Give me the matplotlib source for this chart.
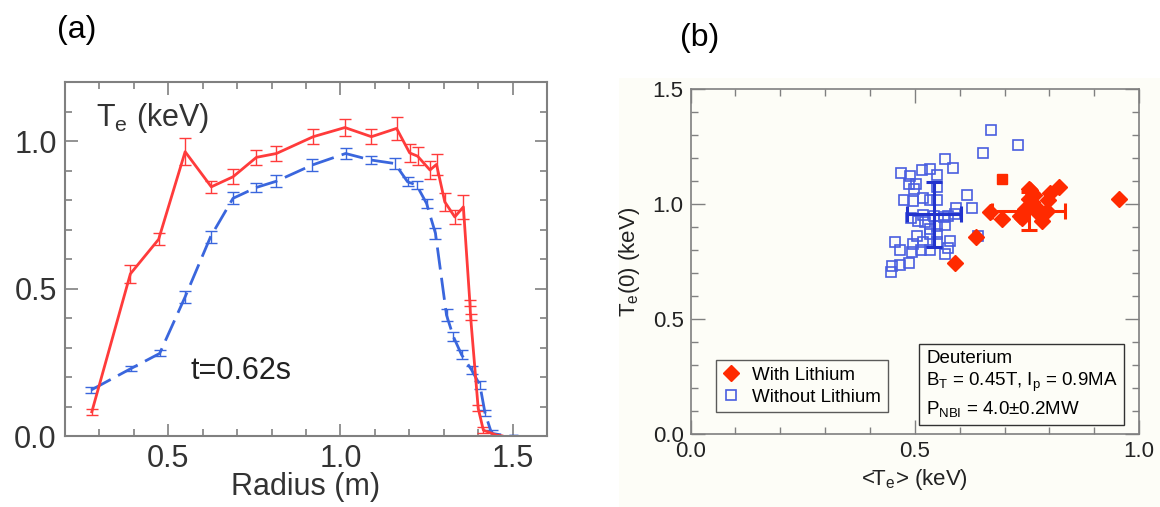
import matplotlib
matplotlib.use("Agg")
import matplotlib.pyplot as plt
from matplotlib.patches import Rectangle
from matplotlib.ticker import MultipleLocator

plt.rcParams['font.family'] = ['Liberation Sans', 'DejaVu Sans']
plt.rcParams['mathtext.default'] = 'regular'

# (a) Te profiles at t=0.62s
red_r = [0.278, 0.39, 0.472, 0.549, 0.625, 0.688, 0.756, 0.814, 0.921, 1.013, 1.090, 1.163,
         1.201, 1.224, 1.260, 1.279, 1.303, 1.332, 1.357, 1.376, 1.378, 1.400, 1.415, 1.453, 1.47]
red_te = [0.082, 0.55, 0.667, 0.964, 0.845, 0.879, 0.945, 0.958, 1.015, 1.046, 1.015, 1.043,
          0.960, 0.949, 0.902, 0.921, 0.794, 0.743, 0.777, 0.450, 0.404, 0.094, 0.020, 0.003, 0.0]
red_err = [0.01, 0.03, 0.02, 0.045, 0.02, 0.025, 0.025, 0.025, 0.025, 0.03, 0.025, 0.04,
           0.03, 0.03, 0.03, 0.035, 0.03, 0.025, 0.04, 0.01, 0.01, 0.01, 0.01, 0.0, 0.0]

blue_r = [0.276, 0.392, 0.475, 0.549, 0.623, 0.688, 0.756, 0.814, 0.918, 1.015, 1.088, 1.158,
          1.195, 1.221, 1.250, 1.276, 1.308, 1.328, 1.352, 1.381, 1.405, 1.420, 1.439, 1.488, 1.517]
blue_te = [0.156, 0.229, 0.280, 0.472, 0.676, 0.806, 0.843, 0.864, 0.919, 0.958, 0.936, 0.924,
           0.862, 0.851, 0.789, 0.687, 0.410, 0.337, 0.275, 0.224, 0.173, 0.077, 0.009, 0.0, 0.0]
blue_err = [0.01, 0.01, 0.01, 0.02, 0.02, 0.02, 0.015, 0.02, 0.02, 0.02, 0.015, 0.02,
            0.015, 0.015, 0.015, 0.02, 0.02, 0.015, 0.015, 0.015, 0.015, 0.01, 0.01, 0.0, 0.0]

# (b) central Te vs volume averaged Te
with_li_x = [0.590, 0.637, 0.668, 0.694, 0.735, 0.739, 0.746, 0.754, 0.754, 0.757, 0.761, 0.765,
             0.769, 0.772, 0.783, 0.795, 0.798, 0.802, 0.821, 0.955]
with_li_y = [0.745, 0.855, 0.966, 0.936, 0.948, 0.939, 0.979, 1.023, 1.066, 1.060, 1.009, 1.038,
             0.994, 0.965, 0.927, 0.970, 1.020, 1.050, 1.073, 1.023]
extra_sq_x = [0.694]
extra_sq_y = [1.108]

without_li_x = [0.670, 0.731, 0.651, 0.568, 0.585, 0.469, 0.490, 0.517, 0.534, 0.549, 0.486, 0.503,
                0.499, 0.549, 0.617, 0.475, 0.495, 0.519, 0.534, 0.550, 0.627, 0.592, 0.590, 0.492,
                0.519, 0.508, 0.523, 0.542, 0.564, 0.575, 0.568, 0.549, 0.534, 0.533, 0.504, 0.549,
                0.579, 0.456, 0.497, 0.519, 0.549, 0.467, 0.493, 0.513, 0.533, 0.575, 0.568, 0.642,
                0.487, 0.467, 0.450, 0.447]
without_li_y = [1.322, 1.256, 1.224, 1.195, 1.159, 1.135, 1.121, 1.150, 1.154, 1.125, 1.089, 1.089,
                1.067, 1.074, 1.038, 1.019, 1.013, 1.026, 1.019, 1.019, 0.982, 0.982, 0.958, 0.939,
                0.953, 0.928, 0.921, 0.950, 0.943, 0.947, 0.909, 0.906, 0.892, 0.870, 0.863, 0.870,
                0.841, 0.837, 0.826, 0.834, 0.834, 0.800, 0.790, 0.800, 0.800, 0.808, 0.783, 0.863,
                0.743, 0.736, 0.729, 0.705]

# mean +- spread
with_mean = (0.754, 0.970, 0.081, 0.082)
without_mean = (0.542, 0.955, 0.060, 0.140)

RED_A = '#ff3b3b'
BLUE_A = '#3a66dd'
RED_B = '#ff2a00'
BLUE_B = '#4a5ee0'
BLUE_BAR = '#2233cc'
GRID = '#808080'

fig = plt.figure(figsize=(11.6, 5.07), dpi=100)
fig.patches.append(Rectangle((0.534, 0.0), 0.466, 0.846, transform=fig.transFigure,
                             facecolor='#fdfdf7', edgecolor='none', zorder=-5))

# ---- panel (a)
ax = fig.add_axes([0.056, 0.140, 0.4156, 0.698])
ax.errorbar(blue_r, blue_te, yerr=blue_err, color=BLUE_A, lw=2.0, ls=(0, (8, 3)),
            elinewidth=1.0, capsize=4, capthick=1.0)
ax.errorbar(red_r, red_te, yerr=red_err, color=RED_A, lw=2.0,
            elinewidth=1.0, capsize=4.5, capthick=1.0)
ax.set_xlim(0.2, 1.6)
ax.set_ylim(0.0, 1.2)
ax.xaxis.set_major_locator(MultipleLocator(0.5))
ax.xaxis.set_minor_locator(MultipleLocator(0.1))
ax.yaxis.set_major_locator(MultipleLocator(0.5))
ax.yaxis.set_minor_locator(MultipleLocator(0.1))
ax.set_xticks([0.5, 1.0, 1.5])
ax.tick_params(which='both', direction='in', top=True, right=True, color=GRID,
               labelsize=22, labelcolor='#333333', pad=6)
ax.tick_params(which='major', length=9, width=1.2)
ax.tick_params(which='minor', length=5, width=1.2)
for s in ax.spines.values():
    s.set_color(GRID)
    s.set_linewidth(1.5)
ax.set_xlabel('Radius (m)', fontsize=22, color='#333333', labelpad=-2)
ax.text(0.29, 1.08, 'T$_e$ (keV)', fontsize=22, color='#333333', va='center', ha='left')
ax.text(0.565, 0.22, 't=0.62s', fontsize=22, color='#222222', va='center', ha='left')
fig.text(0.066, 0.94, '(a)', fontsize=23, ha='center', va='center')

# ---- panel (b)
bx = fig.add_axes([0.5954, 0.144, 0.3865, 0.680])
bx.set_facecolor('#fdfdf7')
bx.plot(without_li_x, without_li_y, ls='none', marker='s', ms=6.5, mfc='none',
        mec=BLUE_B, mew=1.2, label='Without Lithium', zorder=3)
bx.errorbar([without_mean[0]], [without_mean[1]], xerr=[without_mean[2]], yerr=[without_mean[3]],
            color=BLUE_BAR, elinewidth=2.2, capsize=5.5, capthick=2.2, zorder=4)
bx.plot(with_li_x, with_li_y, ls='none', marker='D', ms=8, color=RED_B,
        label='With Lithium', zorder=5)
bx.plot(extra_sq_x, extra_sq_y, ls='none', marker='s', ms=7, color=RED_B, zorder=5)
bx.errorbar([with_mean[0]], [with_mean[1]], xerr=[with_mean[2]], yerr=[with_mean[3]],
            color=RED_B, elinewidth=2.2, capsize=6, capthick=2.2, zorder=6)
bx.set_xlim(0.0, 1.0)
bx.set_ylim(0.0, 1.5)
bx.xaxis.set_major_locator(MultipleLocator(0.5))
bx.xaxis.set_minor_locator(MultipleLocator(0.1))
bx.yaxis.set_major_locator(MultipleLocator(0.5))
bx.yaxis.set_minor_locator(MultipleLocator(0.1))
bx.tick_params(which='both', direction='in', top=True, right=True, color=GRID,
               labelsize=16, labelcolor='#222222', pad=5)
bx.tick_params(which='major', length=10, width=1.0)
bx.tick_params(which='minor', length=5, width=1.0)
for s in bx.spines.values():
    s.set_color(GRID)
    s.set_linewidth(1.2)
bx.set_xlabel('<T$_e$> (keV)', fontsize=16, color='#222222', labelpad=4)
bx.set_ylabel('T$_e$(0) (keV)', fontsize=16, color='#222222', labelpad=8)

handles, labels = bx.get_legend_handles_labels()
leg = bx.legend(handles[::-1], labels[::-1], loc='lower left', bbox_to_anchor=(0.056, 0.063),
                fontsize=13.5, frameon=True, fancybox=False, edgecolor='#333333',
                borderpad=0.35, handlelength=0.9, handletextpad=0.7, labelspacing=0.25,
                borderaxespad=0.0)
leg.get_frame().set_linewidth(1.0)
leg.get_frame().set_facecolor('#fdfdf7')

bx.text(0.525, 0.245, 'Deuterium\nB$_T$ = 0.45T, I$_p$ = 0.9MA\nP$_{NBI}$ = 4.0\u00b10.2MW',
        transform=bx.transAxes, fontsize=13.5, va='top', ha='left', linespacing=1.3,
        bbox=dict(boxstyle='square,pad=0.35', facecolor='#fdfdf7', edgecolor='#333333', lw=1.0))
fig.text(0.603, 0.925, '(b)', fontsize=23, ha='center', va='center')

fig.savefig('out.png', dpi=100)
